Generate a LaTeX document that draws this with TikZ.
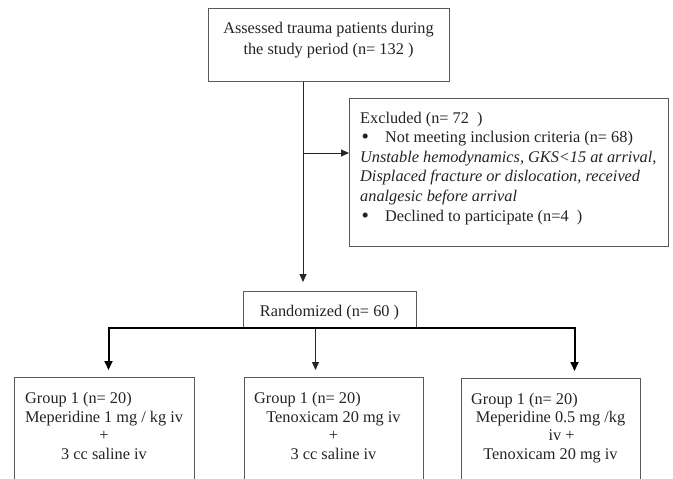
\documentclass[tikz,border=0pt]{standalone}
\usepackage{fontspec}
\setmainfont{Liberation Serif}
\usetikzlibrary{arrows.meta}
\definecolor{boxgray}{RGB}{90,90,90}
\definecolor{textgray}{RGB}{35,35,35}
\newcommand{\bigbul}{\makebox[25pt][l]{\hspace{1.5pt}\raisebox{-1pt}{\fontsize{21}{21}\selectfont\textbullet}}}
\begin{document}
\begin{tikzpicture}[x=1pt,y=-1pt,
  box/.style={draw=boxgray, line width=1pt, inner sep=0pt, anchor=north west},
  txt/.style={font=\fontsize{16.3}{19.6}\selectfont, text=textgray, inner sep=0pt},
  conn/.style={draw=black!85, line width=1pt, -{Triangle[length=8pt,width=7pt]}},
  heavy/.style={draw=black, line width=2pt, -{Triangle[length=9pt,width=8pt]}}]
\useasboundingbox (0,0) rectangle (673,479);
\clip (0,0) rectangle (673,479);
% boxes
\node[box, minimum width=241pt, minimum height=73pt] (top) at (208,8) {};
\node[box, minimum width=319pt, minimum height=148pt] (excl) at (349,98) {};
\node[box, minimum width=173pt, minimum height=36pt] (rand) at (243,291) {};
\node[box, minimum width=180pt, minimum height=120pt] (g1) at (14,377) {};
\node[box, minimum width=179pt, minimum height=120pt] (g2) at (244,377) {};
\node[box, minimum width=179pt, minimum height=120pt] (g3) at (461,378) {};
% texts (base anchor = baseline of the last line)
\node[txt, anchor=base, align=center, font=\fontsize{16.3}{21}\selectfont] (toptxt) at (328.5,54)
  {Assessed trauma patients during\\the study period (n= 132 )};
\node[txt, anchor=base] (randtxt) at (329.5,316) {Randomized (n= 60 )};
\node[txt, anchor=base west, align=left] (excltxt) at (360,221)
  {Excluded (n= 72\ \ )\\
   \bigbul Not meeting inclusion criteria (n= 68)\\
   \textit{Unstable hemodynamics, GKS<15 at arrival,}\\
   \textit{Displaced fracture or dislocation, received}\\
   \textit{analgesic before arrival}\\
   \bigbul Declined to participate (n=4\ \ )};
\node[txt, anchor=base west] (g1h) at (25,403) {Group 1 (n= 20)};
\node[txt, anchor=base, align=center, font=\fontsize{16.3}{18.5}\selectfont] (g1b) at (104,459)
  {Meperidine 1 mg / kg iv\\+\\3 cc saline iv};
\node[txt, anchor=base west] (g2h) at (254,403) {Group 1 (n= 20)};
\node[txt, anchor=base, align=center, font=\fontsize{16.3}{18.5}\selectfont] (g2b) at (333.5,459)
  {Tenoxicam 20 mg iv\\+\\3 cc saline iv};
\node[txt, anchor=base west] (g3h) at (471,404) {Group 1 (n= 20)};
\node[txt, anchor=base, align=center, font=\fontsize{16.3}{18.5}\selectfont] (g3b) at (550.5,459)
  {Meperidine 0.5 mg /kg\\\hspace*{22pt}iv +\\Tenoxicam 20 mg iv};
% connectors
\coordinate (j) at (303,153);
\coordinate (a1) at ([xshift=4pt]g1.north);
\coordinate (a2) at ([xshift=-18.5pt]g2.north);
\coordinate (a3) at ([xshift=23.5pt]g3.north);
\draw[conn, shorten >=9pt] (top.south -| j) -- (rand.north -| j);
\draw[conn] (j) -- (excl.west |- j);
\draw[heavy, shorten >=7pt] (rand.south) -| (a1);
\draw[heavy, shorten >=7pt] (rand.south) -| (a3);
\draw[conn, shorten >=7pt] (rand.south -| a2) -- (a2);
\end{tikzpicture}
\end{document}
